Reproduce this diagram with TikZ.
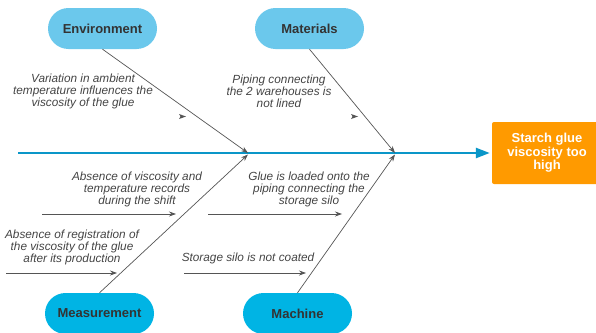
\documentclass[tikz,border=0pt]{standalone}
\usepackage{fontspec}
\setmainfont{Liberation Sans}
\usetikzlibrary{arrows.meta}
\definecolor{lightblue}{HTML}{6BC8EC}
\definecolor{darkblue}{HTML}{00B4E4}
\definecolor{spinecol}{HTML}{0A96C8}
\definecolor{effcol}{HTML}{FF9A00}
\definecolor{txtcol}{HTML}{444444}
\definecolor{lblcol}{HTML}{333333}
\definecolor{linecol}{HTML}{555555}
\tikzset{
  pill/.style={rounded corners=20.5pt, minimum width=109pt, minimum height=41pt, inner sep=0pt,
    font=\bfseries\fontsize{13}{15}\selectfont, text=lblcol},
  effbox/.style={fill=effcol, rounded corners=2pt, minimum width=110pt, minimum height=62pt, inner sep=0pt,
    align=center, text=white, font=\bfseries\fontsize{13}{13.5}\selectfont},
  cause/.style={align=center, text=txtcol, inner sep=0pt, font=\itshape\fontsize{11.8}{12}\selectfont},
  branch/.style={draw=linecol, line width=0.7pt, -{Stealth[length=7pt,width=5pt]}},
  spine/.style={draw=spinecol, line width=2.5pt, -{Triangle[length=14pt,width=10pt]}},
  stray/.style={fill=linecol}
}
\begin{document}
\begin{tikzpicture}[x=1pt,y=-1pt]
\useasboundingbox (0,0) rectangle (596,332);
\clip (0,0) rectangle (596,332);
% category nodes
\node[pill, fill=lightblue] (env) at (102.5,28.5) {Environment};
\node[pill, fill=lightblue] (mat) at (309.5,28.5) {Materials};
\node[pill, fill=darkblue] (mea) at (99.5,313.5) {Measurement};
\node[pill, fill=darkblue] (mac) at (297.5,313.5) {Machine};
% effect
\node[effbox] (eff) at (547,153) {Starch glue\\viscosity too\\high};
% spine
\coordinate (tail) at (18,153);
\draw[spine, shorten >=2pt] (tail) -- (eff.west);
% junctions
\coordinate (j1) at (248,153);
\coordinate (j2) at (395,153);
\coordinate (k1) at (248,154.5);
\coordinate (k2) at (395,154.5);
\draw[branch] (env.south) -- (j1);
\draw[branch] (mat.south) -- (j2);
\draw[branch] (mea.north) -- (k1);
\draw[branch] (mac.north) -- (k2);
% small stray arrowheads
\coordinate (s1b) at (186,116.5);
\coordinate (s2b) at (358,116.5);
\fill[stray] (s1b) -- ++(-7,-2.5) -- ++(1.5,2.5) -- ++(-1.5,2.5) -- cycle;
\fill[stray] (s2b) -- ++(-7,-2.5) -- ++(1.5,2.5) -- ++(-1.5,2.5) -- cycle;
% sub-cause arrows
\coordinate (a1s) at (42,214);
\coordinate (a1e) at (176,214);
\coordinate (a2s) at (208,214);
\coordinate (a2e) at (342,214);
\coordinate (a3s) at (6,273);
\coordinate (a3e) at (117,273);
\coordinate (a4s) at (184,273);
\coordinate (a4e) at (306,273);
\draw[branch] (a1s) -- (a1e);
\draw[branch] (a2s) -- (a2e);
\draw[branch] (a3s) -- (a3e);
\draw[branch] (a4s) -- (a4e);
% cause texts
\node[cause] (t1) at (83,91) {Variation in ambient\\temperature influences the\\viscosity of the glue};
\node[cause] (t2) at (279,91) {Piping connecting\\the 2 warehouses is\\not lined};
\node[cause] (t3) at (137,189) {Absence of viscosity and\\temperature records\\during the shift};
\node[cause] (t4) at (309,189) {Glue is loaded onto the\\piping connecting the\\storage silo};
\node[cause] (t5) at (72,247) {Absence of registration of\\the viscosity of the glue\\after its production};
\node[cause] (t6) at (248,258.5) {Storage silo is not coated};
\end{tikzpicture}
\end{document}
